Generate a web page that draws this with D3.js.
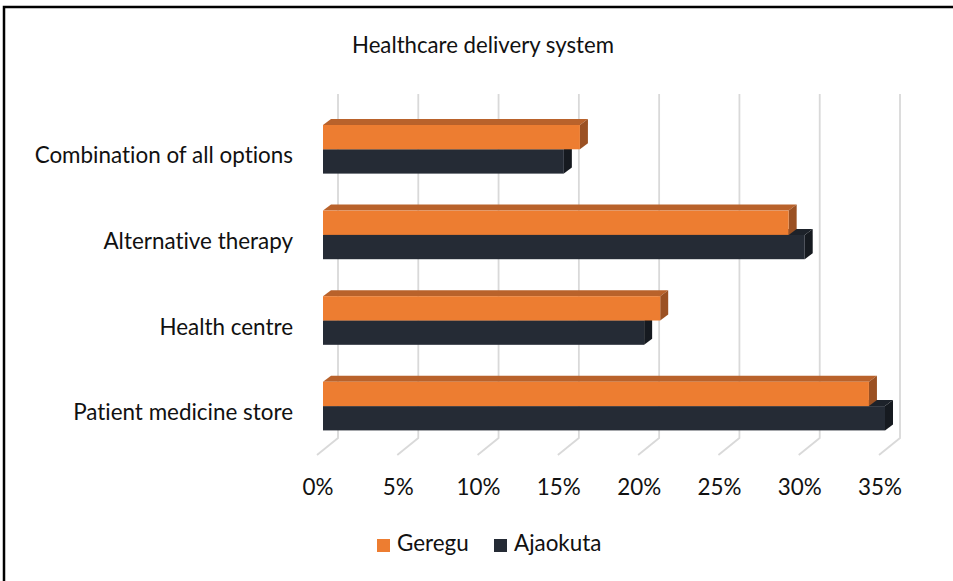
<!DOCTYPE html>
<html>
<head>
<meta charset="utf-8">
<script src="https://cdn.jsdelivr.net/npm/d3@7"></script>
<style>
  html, body { margin: 0; padding: 0; background: #fff; }
  svg { display: block; font-family: Lato, "Open Sans", sans-serif; font-variant-ligatures: none; }
</style>
</head>
<body>
<svg id="chart" width="953" height="581"></svg>
<script>
const categories = ["Combination of all options", "Alternative therapy", "Health centre", "Patient medicine store"];
const seriesNames = ["Geregu", "Ajaokuta"];
const geregu = [16, 29, 21, 34];
const ajaokuta = [15, 30, 20, 35];
const tickValues = [0, 5, 10, 15, 20, 25, 30, 35];

const colors = {
    Geregu: { front: "#ED7D31", top: "#B9622B", side: "#9B5123" },
    Ajaokuta: { front: "#252B35", top: "#1D222A", side: "#161A20" },
};

const svg = d3.select("#chart");
const ink = "#111";

// front plane (tick labels) and offsets for the fake 3d box
const x = d3.scaleLinear().domain([0, 35]).range([318, 880]);
const barDx = 5, backDx = 20, floorFront = -1;
const depth = { dx: 8, dy: -6 };
const floorTop = 438, floorBottom = 455, wallTop = 94;

const y = d3.scaleBand()
    .domain(categories)
    .range([106.5, 448.9])
    .paddingInner(0.432)
    .paddingOuter(0.216);
const half = y.bandwidth() / 2;

function fitSize(text, target) {
    const t = svg.append("text").attr("font-size", 100).text(text);
    const w = t.node().getComputedTextLength();
    t.remove();
    return 100 * target / w;
}
const labelSize = fitSize("Patient medicine store", 220);
const titleSize = fitSize("Healthcare delivery system", 262);

// border (only top and left show in the crop)
svg.append("path")
    .attr("d", "M4,581V7H953")
    .attr("fill", "none")
    .attr("stroke", "#000")
    .attr("stroke-width", 2.5);

svg.append("text")
    .attr("x", 483)
    .attr("y", 53)
    .attr("text-anchor", "middle")
    .attr("font-size", titleSize)
    .attr("fill", ink)
    .text("Healthcare delivery system");

// back wall gridlines + floor diagonals
const grid = svg.append("g").attr("class", "grid");
grid.selectAll("path")
    .data(tickValues)
    .join("path")
    .attr("d", d => `M${x(d) + backDx},${wallTop}V${floorTop}L${x(d) + floorFront},${floorBottom}`)
    .attr("fill", "none")
    .attr("stroke", "#d9d9d9")
    .attr("stroke-width", 1.8);

grid.selectAll("text")
    .data(tickValues)
    .join("text")
    .attr("x", d => x(d))
    .attr("y", 495)
    .attr("text-anchor", "middle")
    .attr("font-size", labelSize)
    .attr("fill", ink)
    .text(d => d + "%");

svg.append("g")
    .selectAll("text")
    .data(categories)
    .join("text")
    .attr("x", 293)
    .attr("y", d => y(d) + half + 14)
    .attr("text-anchor", "end")
    .attr("font-size", labelSize)
    .attr("fill", ink)
    .text(d => d);

// bars: Ajaokuta (lower) first so the Geregu bar covers its top face
const rows = [];
categories.forEach((c, i) => {
    rows.push({ cat: c, series: "Ajaokuta", value: ajaokuta[i], y0: y(c) + half, y1: y(c) + 2 * half });
});
categories.forEach((c, i) => {
    rows.push({ cat: c, series: "Geregu", value: geregu[i], y0: y(c), y1: y(c) + half });
});

const bar = svg.append("g").attr("class", "bars")
    .selectAll("g")
    .data(rows)
    .join("g");

bar.append("path")
    .attr("fill", d => colors[d.series].top)
    .attr("d", d => {
        const x0 = x(0) + barDx, x1 = x(d.value) + barDx;
        return `M${x0},${d.y0}L${x0 + depth.dx},${d.y0 + depth.dy}H${x1 + depth.dx}L${x1},${d.y0}Z`;
    });

bar.append("path")
    .attr("fill", d => colors[d.series].side)
    .attr("d", d => {
        const x1 = x(d.value) + barDx;
        return `M${x1},${d.y0}L${x1 + depth.dx},${d.y0 + depth.dy}V${d.y1 + depth.dy}L${x1},${d.y1}Z`;
    });

bar.append("rect")
    .attr("x", x(0) + barDx)
    .attr("y", d => d.y0)
    .attr("width", d => x(d.value) - x(0))
    .attr("height", d => d.y1 - d.y0)
    .attr("fill", d => colors[d.series].front);

// legend
const legendPos = [377, 494];
const legend = svg.append("g")
    .selectAll("g")
    .data(seriesNames)
    .join("g")
    .attr("transform", (d, i) => `translate(${legendPos[i]},0)`);

legend.append("rect")
    .attr("y", 539)
    .attr("width", 13)
    .attr("height", 13)
    .attr("fill", d => colors[d].front);

legend.append("text")
    .attr("x", 20)
    .attr("y", 551)
    .attr("font-size", labelSize)
    .attr("fill", ink)
    .text(d => d);
</script>
</body>
</html>
